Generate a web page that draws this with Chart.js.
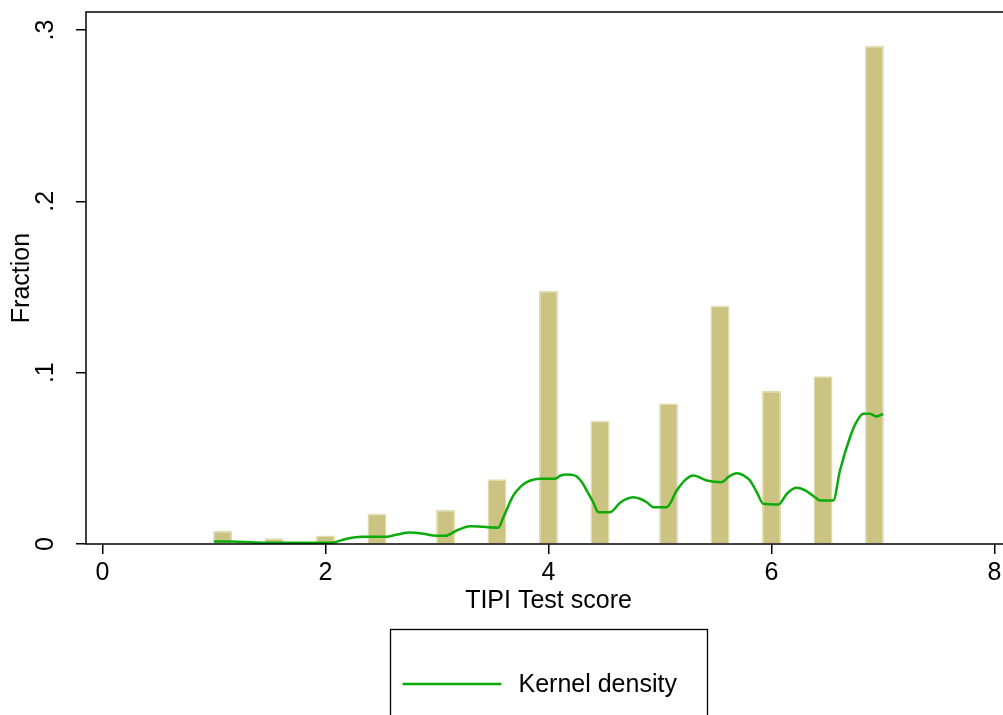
<!DOCTYPE html>
<html>
<head>
<meta charset="utf-8">
<title>TIPI Test score histogram</title>
<script src="https://cdn.jsdelivr.net/npm/chart.js@4.4.1/dist/chart.umd.min.js"></script>
<style>
  html, body { margin: 0; padding: 0; background: #fff; overflow: hidden; }
  #wrap { position: relative; width: 1011px; height: 715px; }
</style>
</head>
<body>
<div id="wrap"><canvas id="histChart" width="1011" height="715"></canvas></div>
<script>
'use strict';

/* ── DATA ─────────────────────────────────────────────────── */
// histogram bins (centres of the occupied bins) and their fractions
const binCenters   = [1.077, 1.538, 2.0, 2.462, 3.077, 3.538, 4.0, 4.462, 5.077, 5.538, 6.0, 6.462, 6.923];
const binFractions = [0.0076, 0.0034, 0.0049, 0.0177, 0.0198, 0.0378, 0.1477, 0.0720, 0.0820, 0.1391, 0.0893, 0.0979, 0.2907];

// kernel density curve
const kdenX = [1.0, 1.159, 1.368, 1.637, 1.906, 2.07, 2.175, 2.325, 2.549, 2.639,
               2.758, 2.877, 2.997, 3.072, 3.177, 3.296, 3.415, 3.55, 3.595, 3.684,
               3.75, 3.804, 3.87, 3.924, 4.058, 4.11, 4.163, 4.21, 4.253, 4.30,
               4.343, 4.40, 4.447, 4.552, 4.641, 4.70, 4.761, 4.82, 4.881, 4.94,
               5.06, 5.15, 5.22, 5.299, 5.419, 5.553, 5.62, 5.688, 5.75, 5.807,
               5.87, 5.926, 6.061, 6.14, 6.226, 6.31, 6.39, 6.435, 6.554, 6.614,
               6.704, 6.76, 6.823, 6.883, 6.943, 7.0];
const kdenY = [0.0015, 0.0015, 0.0009, 0.0007, 0.0007, 0.0009, 0.0028, 0.0042, 0.0042, 0.0055,
               0.0067, 0.0060, 0.0048, 0.0048, 0.0079, 0.0104, 0.0100, 0.0095, 0.0156, 0.0283,
               0.0335, 0.0361, 0.0376, 0.0381, 0.0381, 0.0400, 0.0406, 0.0404, 0.0394, 0.0360,
               0.0312, 0.0245, 0.0186, 0.0186, 0.0240, 0.0263, 0.0273, 0.0264, 0.0244, 0.0215,
               0.0215, 0.0312, 0.0370, 0.0400, 0.0371, 0.0361, 0.0395, 0.0413, 0.0400, 0.0371,
               0.0300, 0.0235, 0.0231, 0.0295, 0.0328, 0.0310, 0.0273, 0.0254, 0.0254, 0.0429,
               0.0623, 0.0710, 0.0760, 0.0760, 0.0744, 0.0760];

const xTickValues = [0, 2, 4, 6, 8];
const yTickValues = [0, 0.1, 0.2, 0.3];
const yTickLabels = ['0', '.1', '.2', '.3'];

const FONT_FAMILY = '"Liberation Sans", Arial, Helvetica, sans-serif';
const LEGEND_LABEL = 'Kernel density';

/* ── PLUGINS ──────────────────────────────────────────────── */
// plot-region frame (Stata style outline)
const frame = {
  id: 'frame',
  afterDraw(chart) {
    const { ctx, chartArea: a } = chart;
    ctx.save();
    ctx.strokeStyle = '#000';
    ctx.lineWidth = 1.5;
    ctx.strokeRect(a.left, a.top, a.right - a.left, a.bottom - a.top);
    ctx.restore();
  }
};

// boxed legend below the axis title
const legendBox = {
  id: 'legendBox',
  afterDraw(chart) {
    const { ctx, chartArea: a } = chart;
    const ds = chart.data.datasets.find(d => d.type === 'line');
    if (!ds) return;
    const boxW = 317;
    const left = Math.round((a.left + a.right) / 2 - boxW / 2) + 0.5;
    const top = 629.5;
    const midY = 684;
    ctx.save();
    ctx.strokeStyle = '#000';
    ctx.lineWidth = 1.3;
    ctx.strokeRect(left, top, boxW, 200);
    ctx.strokeStyle = ds.borderColor;
    ctx.lineWidth = ds.borderWidth;
    ctx.beginPath();
    ctx.moveTo(left + 12, midY);
    ctx.lineTo(left + 111, midY);
    ctx.stroke();
    ctx.fillStyle = '#000';
    ctx.font = `25px ${FONT_FAMILY}`;
    ctx.textBaseline = 'middle';
    ctx.fillText(ds.label, left + 128, midY + 1);
    ctx.restore();
  }
};

/* ── CHART ────────────────────────────────────────────────── */
const ctx = document.getElementById('histChart').getContext('2d');

new Chart(ctx, {
  type: 'bar',
  data: {
    datasets: [
      {
        type: 'line',
        label: LEGEND_LABEL,
        data: kdenX.map((x, i) => ({ x, y: kdenY[i] })),
        borderColor: '#0AAB0A',
        borderWidth: 2.5,
        pointRadius: 0,
        fill: false,
        cubicInterpolationMode: 'monotone',
        order: 0,
      },
      {
        type: 'bar',
        label: 'Fraction',
        data: binCenters.map((x, i) => ({ x, y: binFractions[i] })),
        backgroundColor: '#CBC381',
        borderColor: '#E1DCAE',
        borderWidth: 1.5,
        borderSkipped: 'start',
        barPercentage: 0.37,
        categoryPercentage: 1,
        order: 1,
      }
    ]
  },
  options: {
    responsive: false,
    animation: false,
    layout: { padding: { top: 12, left: 0, right: 0, bottom: 91 } },
    plugins: {
      legend: { display: false },
      tooltip: { enabled: false },
    },
    scales: {
      x: {
        type: 'linear',
        min: -0.148,
        max: 8.148,
        offset: false,
        border: { display: false },
        grid: { display: true, offset: false, drawOnChartArea: false, drawTicks: true,
                tickLength: 10, color: '#000', lineWidth: 1.5 },
        afterBuildTicks: scale => { scale.ticks = xTickValues.map(v => ({ value: v })); },
        afterFit: scale => {
          scale.height = 80;
          scale.paddingLeft = 0;
          scale.paddingRight = 0;
        },
        ticks: {
          autoSkip: false,
          maxRotation: 0,
          padding: 4,
          color: '#000',
          font: { family: FONT_FAMILY, size: 25 },
          callback: v => String(v),
        },
        title: {
          display: true,
          text: 'TIPI Test score',
          color: '#000',
          font: { family: FONT_FAMILY, size: 25 },
          padding: { top: 0, bottom: 8 },
        },
      },
      y: {
        type: 'linear',
        min: 0,
        max: 0.3105,
        border: { display: false },
        grid: { display: true, drawOnChartArea: false, drawTicks: true,
                tickLength: 10, color: '#000', lineWidth: 1.5 },
        afterBuildTicks: scale => { scale.ticks = yTickValues.map(v => ({ value: v })); },
        afterFit: scale => {
          scale.width = 86;
          scale.paddingTop = 0;
          scale.paddingBottom = 0;
        },
        ticks: {
          autoSkip: false,
          minRotation: 90,
          maxRotation: 90,
          crossAlign: 'center',
          padding: 19,
          color: '#000',
          font: { family: FONT_FAMILY, size: 25 },
          callback: (v, i) => yTickLabels[i],
        },
        title: {
          display: true,
          text: 'Fraction',
          color: '#000',
          font: { family: FONT_FAMILY, size: 25 },
          padding: { top: 7, bottom: 0 },
        },
      }
    }
  },
  plugins: [frame, legendBox]
});
</script>
</body>
</html>
